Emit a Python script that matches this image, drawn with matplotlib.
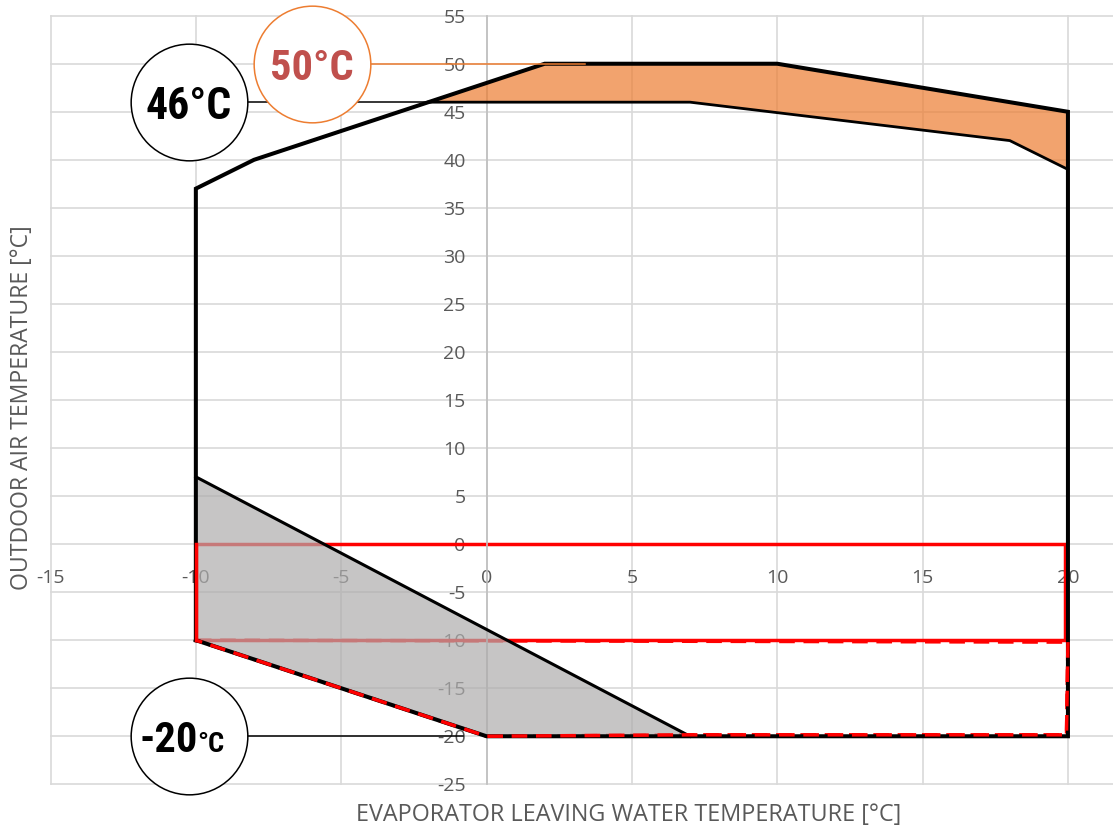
import matplotlib
matplotlib.use("Agg")
import matplotlib.pyplot as plt

plt.rcParams["axes.unicode_minus"] = False

# Operating envelope of the chiller
envelope_x = [-10, -10, -8, 2, 10, 20, 20, 0, -10]
envelope_y = [-10, 37, 40, 50, 50, 45, -20, -20, -10]

# High-ambient extension zone (orange)
high_x = [-2, 2, 10, 20, 20, 18, 7, -2]
high_y = [46, 50, 50, 45, 39, 42, 46, 46]

# Low-ambient / brine zone (grey)
low_x = [-10, 7, 0, -10]
low_y = [7, -20, -20, -10]

# Red solid box (0 .. -10 °C ambient)
box_x = [-10, 19.9, 19.9, -10, -10]
box_y = [0, 0, -10, -10, 0]

# Red dashed box (-10 .. -20 °C ambient)
dash_x = [-10, 20, 19.95, 7, 0, -10]
dash_y = [-10, -10.2, -19.85, -19.85, -20, -10]

# Callout labels: (x, y, leader end x)
call_46 = (-10.25, 46, -2)
call_50 = (-6.0, 50, 3.4)
call_m20 = (-10.25, -20, -0.8)

x_ticks = list(range(-15, 25, 5))
y_ticks = list(range(-25, 60, 5))

GRAY_TXT = "#595959"
ORANGE = "#ED7D31"
RED = "#FF0000"
NARROW = ["Roboto Condensed", "Archivo Narrow", "DejaVu Sans"]

fig = plt.figure(figsize=(11.13, 8.3), dpi=100)
ax = fig.add_axes([50.5 / 1113, 45.7 / 830, 1062.5 / 1113, 768.6 / 830])
ax.set_xlim(-15, 21.55)
ax.set_ylim(-25, 55)
ax.set_axisbelow(True)

for s in ["top", "right", "bottom"]:
    ax.spines[s].set_visible(False)
ax.spines["left"].set_position(("data", 0))
ax.spines["left"].set_color("#bfbfbf")
ax.spines["left"].set_linewidth(1.2)
ax.spines["bottom"].set_position(("data", 0))

ax.set_xticks(x_ticks)
ax.set_yticks(y_ticks)
ax.tick_params(axis="both", length=0, labelcolor=GRAY_TXT, labelsize=14)
ax.tick_params(axis="x", pad=18)
ax.tick_params(axis="y", pad=15)
for lab in ax.get_xticklabels() + ax.get_yticklabels():
    lab.set_fontfamily("Open Sans")

ax.grid(True, color="#d9d9d9", linewidth=1.2)
for gl in ax.get_xgridlines() + ax.get_ygridlines():
    gl.set_clip_on(False)

# Red boxes (drawn below the grey zone so they show through it)
ax.plot(box_x, box_y, color=RED, lw=2.5, zorder=2, solid_joinstyle="miter")
ax.plot(dash_x, dash_y, color=RED, lw=2.5, ls=(0, (4.5, 2.5)), zorder=2)

# Zones
ax.fill(low_x, low_y, color="#aeadad", alpha=0.7, lw=0, zorder=3)
ax.fill(high_x, high_y, color=ORANGE, alpha=0.7, lw=0, zorder=3)

# Zone edges
ax.plot(low_x[:2], low_y[:2], color="black", lw=2.2, zorder=4)
ax.plot(high_x[4:], high_y[4:], color="black", lw=2.0, zorder=4)

# Envelope
ax.plot(envelope_x, envelope_y, color="black", lw=2.9, zorder=5,
        solid_joinstyle="miter")

# Red parts that sit on top of the envelope
ax.plot(box_x[3:5], box_y[3:5], color=RED, lw=2.5, zorder=6)
ax.plot(dash_x[1:], dash_y[1:], color=RED, lw=2.5, ls=(0, (4.5, 2.5)), zorder=6)

# Callouts
cx, cy, ex = call_46
ax.plot([cx, ex], [cy, cy], color="black", lw=1.1, zorder=4)
ax.plot(cx, cy, "o", ms=84, mfc="white", mec="black", mew=1.1, zorder=8,
        clip_on=False)
ax.text(cx, 44.23, "46°C", ha="center", va="baseline", fontsize=31.5,
        fontweight="bold", family=NARROW, color="black", zorder=9)

cx, cy, ex = call_50
ax.plot([cx, ex], [cy, cy], color=ORANGE, lw=1.1, zorder=7)
ax.plot(cx, cy, "o", ms=84, mfc="white", mec=ORANGE, mew=1.1, zorder=8,
        clip_on=False)
ax.text(cx, 48.32, "50°C", ha="center", va="baseline", fontsize=30.5,
        fontweight="bold", family=NARROW, color="#C0504D", zorder=9)

cx, cy, ex = call_m20
ax.plot([cx, ex], [cy, cy], color="black", lw=1.1, zorder=4)
ax.plot(cx, cy, "o", ms=84, mfc="white", mec="black", mew=1.1, zorder=8,
        clip_on=False)
ax.text(-9.94, -21.6, "-20", ha="right", va="baseline", fontsize=30.5,
        fontweight="bold", family=NARROW, color="black", zorder=9)
ax.text(-9.94, -21.6, "°C", ha="left", va="baseline", fontsize=20.5,
        fontweight="bold", family=NARROW, color="black", zorder=9)

# Axis titles
fig.text(22 / 1113, 1 - 408 / 830, "OUTDOOR AIR TEMPERATURE [°C]",
         rotation=90, ha="center", va="center", fontsize=16.6,
         family="Open Sans", color=GRAY_TXT)
fig.text(629 / 1113, 1 - 815 / 830, "EVAPORATOR LEAVING WATER TEMPERATURE [°C]",
         ha="center", va="center", fontsize=16.8, family="Open Sans",
         color=GRAY_TXT)

fig.savefig("out.png", dpi=100, facecolor="white")
